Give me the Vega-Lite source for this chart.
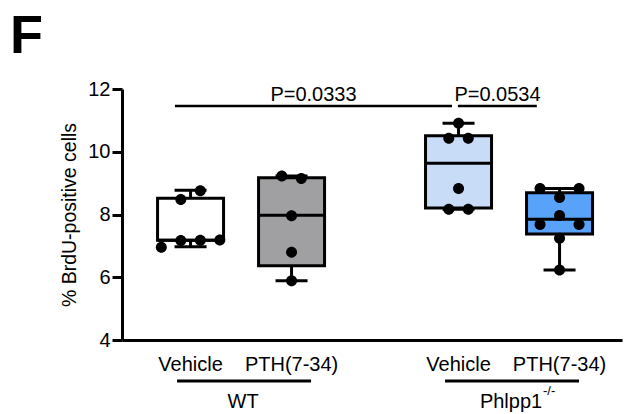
{
  "$schema": "https://vega.github.io/schema/vega-lite/v6.json",
  "autosize": {"type": "none"},
  "padding": {"left": 122, "top": 89, "right": 3, "bottom": 74},
  "width": 500,
  "height": 251,
  "title": {"text": "F", "anchor": "start", "frame": "group", "fontSize": 54, "fontWeight": "bold", "font": "Liberation Sans", "color": "black", "dx": -112, "offset": -28, "baseline": "alphabetic"},
  "config": {
    "view": {"stroke": null},
    "font": "Liberation Sans",
    "tick": {"opacity": 1},
    "axis": {"grid": false, "domainColor": "black", "tickColor": "black", "labelColor": "black", "titleColor": "black", "labelFont": "Liberation Sans", "titleFont": "Liberation Sans"}
  },
  "datasets": {
    "boxes": [
      {"genotype": "WT", "treatment": "Vehicle", "series": "WT Vehicle", "min": 6.97, "q1": 7.18, "median": 7.18, "q3": 8.52, "max": 8.77},
      {"genotype": "WT", "treatment": "PTH(7-34)", "series": "WT PTH(7-34)", "min": 5.89, "q1": 6.37, "median": 7.98, "q3": 9.17, "max": 9.23},
      {"genotype": "Phlpp1", "treatment": "Vehicle", "series": "Phlpp1 Vehicle", "min": 8.17, "q1": 8.21, "median": 9.63, "q3": 10.51, "max": 10.91},
      {"genotype": "Phlpp1", "treatment": "PTH(7-34)", "series": "Phlpp1 PTH(7-34)", "min": 6.23, "q1": 7.38, "median": 7.85, "q3": 8.69, "max": 8.83}
    ],
    "points": [
      {"genotype": "WT", "treatment": "Vehicle", "value": 6.96, "swarm": -1.5},
      {"genotype": "WT", "treatment": "Vehicle", "value": 7.17, "swarm": -0.5},
      {"genotype": "WT", "treatment": "Vehicle", "value": 7.18, "swarm": 0.5},
      {"genotype": "WT", "treatment": "Vehicle", "value": 7.19, "swarm": 1.5},
      {"genotype": "WT", "treatment": "Vehicle", "value": 8.48, "swarm": -0.5},
      {"genotype": "WT", "treatment": "Vehicle", "value": 8.76, "swarm": 0.5},
      {"genotype": "WT", "treatment": "PTH(7-34)", "value": 9.23, "swarm": -0.5},
      {"genotype": "WT", "treatment": "PTH(7-34)", "value": 9.15, "swarm": 0.5},
      {"genotype": "WT", "treatment": "PTH(7-34)", "value": 7.96, "swarm": 0},
      {"genotype": "WT", "treatment": "PTH(7-34)", "value": 6.8, "swarm": 0},
      {"genotype": "WT", "treatment": "PTH(7-34)", "value": 5.89, "swarm": 0},
      {"genotype": "Phlpp1", "treatment": "Vehicle", "value": 10.91, "swarm": 0},
      {"genotype": "Phlpp1", "treatment": "Vehicle", "value": 10.43, "swarm": -0.5},
      {"genotype": "Phlpp1", "treatment": "Vehicle", "value": 10.43, "swarm": 0.5},
      {"genotype": "Phlpp1", "treatment": "Vehicle", "value": 8.83, "swarm": 0},
      {"genotype": "Phlpp1", "treatment": "Vehicle", "value": 8.17, "swarm": -0.5},
      {"genotype": "Phlpp1", "treatment": "Vehicle", "value": 8.17, "swarm": 0.5},
      {"genotype": "Phlpp1", "treatment": "PTH(7-34)", "value": 8.83, "swarm": -1},
      {"genotype": "Phlpp1", "treatment": "PTH(7-34)", "value": 8.83, "swarm": 1},
      {"genotype": "Phlpp1", "treatment": "PTH(7-34)", "value": 8.54, "swarm": 0},
      {"genotype": "Phlpp1", "treatment": "PTH(7-34)", "value": 7.97, "swarm": 0},
      {"genotype": "Phlpp1", "treatment": "PTH(7-34)", "value": 7.68, "swarm": -1},
      {"genotype": "Phlpp1", "treatment": "PTH(7-34)", "value": 7.68, "swarm": 1},
      {"genotype": "Phlpp1", "treatment": "PTH(7-34)", "value": 7.24, "swarm": 0},
      {"genotype": "Phlpp1", "treatment": "PTH(7-34)", "value": 6.23, "swarm": 0}
    ],
    "genotypes": [
      {"genotype": "WT", "label": "WT", "sup": ""},
      {"genotype": "Phlpp1", "label": "Phlpp1", "sup": "-/-"}
    ]
  },
  "encoding": {
    "x": {"field": "genotype", "type": "nominal", "sort": ["WT", "Phlpp1"],
      "scale": {"domain": ["WT", "Phlpp1"], "paddingInner": 0.5854, "paddingOuter": 0.2256, "align": 0.5252},
      "axis": {"labels": false, "ticks": false, "title": null, "domainWidth": 3}},
    "y": {"type": "quantitative",
      "scale": {"domain": [4, 12], "nice": false, "zero": false},
      "axis": {"values": [4, 6, 8, 10, 12], "tickSize": 10, "tickWidth": 3, "domainWidth": 3, "labelFontSize": 20, "labelPadding": 2, "title": "% BrdU-positive cells", "titleFontSize": 19.5, "titleFontWeight": "normal", "titlePadding": 8}}
  },
  "layer": [
    {
      "data": {"name": "boxes"},
      "mark": {"type": "rule", "strokeWidth": 3, "color": "black"},
      "encoding": {
        "xOffset": {"field": "treatment", "type": "nominal", "scale": {"domain": ["Vehicle", "PTH(7-34)"], "paddingInner": 0.9, "paddingOuter": 0}},
        "y": {"field": "min", "type": "quantitative"},
        "y2": {"field": "max"}
      }
    },
    {
      "data": {"name": "boxes"},
      "mark": {"type": "tick", "size": 32, "thickness": 3, "color": "black", "opacity": 1, "orient": "horizontal"},
      "encoding": {
        "xOffset": {"field": "treatment", "type": "nominal"},
        "y": {"field": "max", "type": "quantitative"}
      }
    },
    {
      "data": {"name": "boxes"},
      "mark": {"type": "tick", "size": 32, "thickness": 3, "color": "black", "opacity": 1, "orient": "horizontal"},
      "encoding": {
        "xOffset": {"field": "treatment", "type": "nominal"},
        "y": {"field": "min", "type": "quantitative"}
      }
    },
    {
      "data": {"name": "boxes"},
      "mark": {"type": "bar", "width": 66, "stroke": "black", "strokeWidth": 3, "opacity": 1},
      "encoding": {
        "xOffset": {"field": "treatment", "type": "nominal"},
        "y": {"field": "q1", "type": "quantitative"},
        "y2": {"field": "q3"},
        "fill": {"field": "series", "type": "nominal", "legend": null,
          "scale": {"domain": ["WT Vehicle", "WT PTH(7-34)", "Phlpp1 Vehicle", "Phlpp1 PTH(7-34)"], "range": ["#ffffff", "#a0a0a3", "#c8dcf7", "#58a2f9"]}}
      }
    },
    {
      "data": {"name": "boxes"},
      "mark": {"type": "tick", "size": 66, "thickness": 3, "color": "black", "opacity": 1, "orient": "horizontal"},
      "encoding": {
        "xOffset": {"field": "treatment", "type": "nominal"},
        "y": {"field": "median", "type": "quantitative"}
      }
    },
    {
      "data": {"name": "points"},
      "mark": {"type": "point", "filled": true, "size": 121, "color": "black", "opacity": 1},
      "encoding": {
        "xOffset": {"field": "treatment", "type": "nominal"},
        "y": {"field": "value", "type": "quantitative"},
        "shape": {"field": "swarm", "type": "nominal", "legend": null,
          "scale": {"domain": [-1.5, -1, -0.5, 0, 0.5, 1, 1.5],
            "range": [
              "M -6.318,0 A 1,1 0 1,0 -4.318,0 A 1,1 0 1,0 -6.318,0 Z",
              "M -4.545,0 A 1,1 0 1,0 -2.545,0 A 1,1 0 1,0 -4.545,0 Z",
              "M -2.773,0 A 1,1 0 1,0 -0.773,0 A 1,1 0 1,0 -2.773,0 Z",
              "M -1,0 A 1,1 0 1,0 1,0 A 1,1 0 1,0 -1,0 Z",
              "M 0.773,0 A 1,1 0 1,0 2.773,0 A 1,1 0 1,0 0.773,0 Z",
              "M 2.545,0 A 1,1 0 1,0 4.545,0 A 1,1 0 1,0 2.545,0 Z",
              "M 4.318,0 A 1,1 0 1,0 6.318,0 A 1,1 0 1,0 4.318,0 Z"
            ]}}
      }
    },
    {
      "data": {"name": "boxes"},
      "mark": {"type": "text", "fontSize": 20, "baseline": "alphabetic", "dy": 31, "color": "black"},
      "encoding": {
        "xOffset": {"field": "treatment", "type": "nominal"},
        "y": {"datum": 4},
        "text": {"field": "treatment"}
      }
    },
    {
      "data": {"name": "genotypes"},
      "mark": {"type": "tick", "size": 134, "thickness": 3, "color": "black", "opacity": 1, "orient": "horizontal", "xOffset": 3, "yOffset": 41},
      "encoding": {
        "y": {"datum": 4}
      }
    },
    {
      "data": {"name": "genotypes"},
      "mark": {"type": "text", "fontSize": 20, "baseline": "alphabetic", "dy": 68, "dx": 2, "color": "black"},
      "encoding": {
        "y": {"datum": 4},
        "text": {"field": "label"}
      }
    },
    {
      "data": {"name": "genotypes"},
      "transform": [{"filter": "datum.sup != ''"}],
      "mark": {"type": "text", "fontSize": 13, "baseline": "alphabetic", "align": "left", "dy": 55, "dx": 34, "color": "black"},
      "encoding": {
        "y": {"datum": 4},
        "text": {"field": "sup"}
      }
    },
    {
      "data": {"values": [{"from": "WT", "to": "Phlpp1", "p": "P=0.0333"}]},
      "mark": {"type": "rule", "strokeWidth": 2.5, "color": "black"},
      "encoding": {
        "x": {"field": "from", "type": "nominal", "bandPosition": -0.095},
        "x2": {"field": "to", "bandPosition": -0.0135},
        "y": {"datum": 11.46}
      }
    },
    {
      "data": {"values": [{"from": "WT", "to": "Phlpp1", "p": "P=0.0333"}]},
      "mark": {"type": "text", "fontSize": 20, "baseline": "alphabetic", "dy": -5, "color": "black"},
      "encoding": {
        "x": {"field": "from", "type": "nominal", "bandPosition": 1.152},
        "y": {"datum": 11.46},
        "text": {"field": "p"}
      }
    },
    {
      "data": {"values": [{"from": "Phlpp1", "to": "Phlpp1", "p": "P=0.0534"}]},
      "mark": {"type": "rule", "strokeWidth": 2.5, "color": "black"},
      "encoding": {
        "x": {"field": "from", "type": "nominal", "bandPosition": 0.04},
        "x2": {"field": "to", "bandPosition": 0.75},
        "y": {"datum": 11.46}
      }
    },
    {
      "data": {"values": [{"from": "Phlpp1", "to": "Phlpp1", "p": "P=0.0534"}]},
      "mark": {"type": "text", "fontSize": 20, "baseline": "alphabetic", "dy": -5, "color": "black"},
      "encoding": {
        "x": {"field": "from", "type": "nominal", "bandPosition": 0.396},
        "y": {"datum": 11.46},
        "text": {"field": "p"}
      }
    }
  ]
}
